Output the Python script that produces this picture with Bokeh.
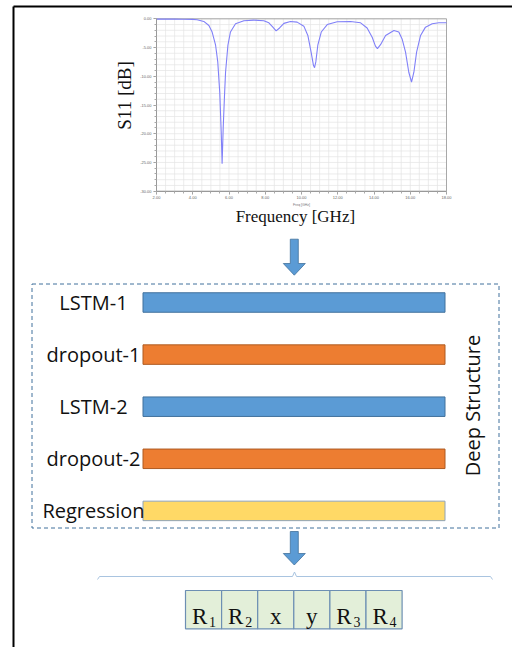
import numpy as np
from bokeh.plotting import figure
from bokeh.models import Range1d, LinearAxis, FixedTicker
from bokeh.core.properties import value
from bokeh.embed import file_html
from bokeh.resources import INLINE

# ---------------- data ----------------
freq_ghz = [2.0, 2.5, 3.0, 3.5, 4.0,
            4.24, 4.61, 4.89, 5.07, 5.26,
            5.38, 5.49, 5.57, 5.62, 5.68,
            5.75, 5.81, 5.94, 6.08, 6.36,
            6.82, 7.37, 7.92, 8.2, 8.42,
            8.6, 8.79, 9.03, 9.39, 9.76,
            10.13, 10.35, 10.53, 10.66, 10.72,
            10.79, 10.9, 11.09, 11.42, 11.97,
            12.7, 13.26, 13.62, 13.9, 14.08,
            14.19, 14.36, 14.64, 15.1, 15.37,
            15.55, 15.74, 15.92, 16.07, 16.2,
            16.35, 16.57, 16.84, 17.21, 17.58,
            18.0]
s11_db = [-0.05, -0.05, -0.06, -0.07, -0.1,
          -0.17, -0.46, -1.16, -2.3, -4.6,
          -7.5, -12.8, -19.7, -25.2, -19.0,
          -13.5, -9.3, -4.6, -2.3, -0.87,
          -0.35, -0.23, -0.35, -0.7, -1.45,
          -2.09, -1.6, -0.8, -0.46, -0.58,
          -1.28, -2.9, -5.8, -8.1, -8.5,
          -7.5, -4.6, -2.3, -1.0, -0.52,
          -0.46, -0.7, -1.6, -3.2, -4.76,
          -5.2, -4.5, -2.9, -2.03, -2.3,
          -3.5, -5.8, -9.3, -11.0, -9.3,
          -5.8, -2.9, -1.45, -0.87, -0.7,
          -0.7]

freq_ticks = [2, 4, 6, 8, 10, 12, 14, 16, 18]
freq_tick_labels = ["2.00", "4.00", "6.00", "8.00", "10.00", "12.00", "14.00", "16.00", "18.00"]
db_ticks = [0, -5, -10, -15, -20, -25, -30]
db_tick_labels = ["0.00", "-5.00", "-10.00", "-15.00", "-20.00", "-25.00", "-30.00"]

layers = ["LSTM-1", "dropout-1", "LSTM-2", "dropout-2", "Regression"]
layer_colors = ["#5b9bd5", "#ed7d31", "#5b9bd5", "#ed7d31", "#ffd966"]
layer_lines = ["#41719c", "#ae5a21", "#41719c", "#ae5a21", "#8fa3b8"]

out_main = ["R", "R", "x", "y", "R", "R"]
out_sub = ["1", "2", "", "", "3", "4"]

# ---------------- layout (page pixels) ----------------
W, H = 512, 647
PX0, PY0 = 0, 0
# chart frame in page pixels
CH_L, CH_R, CH_T, CH_B = 156.0, 446.0, 18.3, 190.7
F0, F1 = 2.0, 18.0
D0, D1 = 0.0, -30.0

p = figure(width=W, height=H, x_range=Range1d(PX0, PX0 + W), y_range=Range1d(PY0 + H, PY0),
           output_backend="svg", toolbar_location=None, min_border=0,
           x_axis_location=None, y_axis_location=None, outline_line_color=None,
           background_fill_color="white", border_fill_color="white")
p.grid.visible = False

# extra ranges so the S11 chart is drawn through its own scales
fpp = (F1 - F0) / (CH_R - CH_L)
dpp = (D0 - D1) / (CH_B - CH_T)
p.extra_x_ranges = {"freq": Range1d(F0 - (CH_L - PX0) * fpp, F1 + (PX0 + W - CH_R) * fpp)}
p.extra_y_ranges = {"db": Range1d(D1 - (PY0 + H - CH_B) * dpp, D0 + (CH_T - PY0) * dpp)}

# grid
gx = np.arange(F0, F1 + 0.001, 0.5)
gy = np.arange(D1, D0 + 0.001, 1.0)
p.multi_line(xs=[[g, g] for g in gx], ys=[[D1, D0]] * len(gx), x_range_name="freq",
             y_range_name="db", line_color="#e4e4e4", line_width=0.7)
p.multi_line(xs=[[F0, F1]] * len(gy), ys=[[g, g] for g in gy], x_range_name="freq",
             y_range_name="db", line_color="#e4e4e4", line_width=0.7)
p.quad(left=[F0], right=[F1], bottom=[D1], top=[D0], x_range_name="freq", y_range_name="db",
       fill_color=None, line_color="#a8a8a8", line_width=1)

p.line(freq_ghz, s11_db, x_range_name="freq", y_range_name="db",
       line_color="#8080f8", line_width=1.1)

xa = LinearAxis(x_range_name="freq", fixed_location=CH_B, bounds=(F0, F1),
                ticker=FixedTicker(ticks=freq_ticks, minor_ticks=list(np.arange(F0, F1 + 0.01, 0.5))),
                major_label_overrides={t: l for t, l in zip(freq_ticks, freq_tick_labels)},
                axis_label="Freq [GHz]", axis_label_text_font_size="3.5px",
                axis_label_text_font_style="normal", axis_label_standoff=0,
                axis_label_text_color="#777",
                major_label_text_font_size="4px", major_label_text_color="#666",
                major_label_standoff=2,
                axis_line_color="#999", major_tick_line_color="#999", minor_tick_line_color="#aaa",
                major_tick_out=3, major_tick_in=0, minor_tick_out=2, minor_tick_in=0)
p.add_layout(xa, "below")
ya = LinearAxis(y_range_name="db", fixed_location=CH_L, bounds=(D1, D0),
                ticker=FixedTicker(ticks=db_ticks, minor_ticks=list(np.arange(D1, D0 + 0.01, 1.0))),
                major_label_overrides={t: l for t, l in zip(db_ticks, db_tick_labels)},
                major_label_text_font_size="4px", major_label_text_color="#666",
                major_label_standoff=2,
                axis_line_color="#999", major_tick_line_color="#999", minor_tick_line_color="#aaa",
                major_tick_out=3, major_tick_in=0, minor_tick_out=2, minor_tick_in=0)
p.add_layout(ya, "left")

serif = value("Liberation Serif")
sans = value("Open Sans")

p.text(x=[124], y=[95], text=["S11 [dB]"], angle=np.pi / 2, text_font=serif,
       text_font_size="19px", text_align="center", text_baseline="middle", text_color="#111")
p.text(x=[297], y=[216], text=["Frequency  [GHz]"], text_font=serif,
       text_font_size="17px", text_align="center", text_baseline="middle", text_color="#111")

# black border (top & left)
p.line([13, 13], [6, PY0 + H], line_color="black", line_width=2)
p.line([13, PX0 + W], [6, 6], line_color="black", line_width=2)

# arrows
def arrow(cx, top, neck, tip, sw=4.0, hw=11.0):
    xs = [cx - sw, cx + sw, cx + sw, cx + hw, cx, cx - hw, cx - sw]
    ys = [top, top, neck, neck, tip, neck, neck]
    p.patch(xs, ys, fill_color="#5b9bd5", line_color="#41719c", line_width=0.8)

arrow(293.8, 238.7, 263.0, 274.7)
arrow(293.8, 531.0, 553.0, 564.5)

# dashed box
BOX_L, BOX_R, BOX_T, BOX_B = 31.5, 498.5, 283.5, 527.5
p.line([BOX_L, BOX_R, BOX_R, BOX_L, BOX_L], [BOX_T, BOX_T, BOX_B, BOX_B, BOX_T],
       line_color="#41719c", line_width=1, line_dash="4 3")

BAR_L, BAR_R, BAR_Y0, BAR_STEP, BAR_H = 142.5, 444.5, 302.0, 52.1, 19.5
ys = [BAR_Y0 + i * BAR_STEP for i in range(len(layers))]
p.rect(x=[(BAR_L + BAR_R) / 2] * len(layers), y=ys, width=BAR_R - BAR_L, height=BAR_H,
       fill_color=layer_colors, line_color=layer_lines, line_width=1)
p.text(x=[93] * len(layers), y=ys, text=layers, text_font=sans, text_font_size="20px",
       text_align="center", text_baseline="middle", text_color="#111")
p.text(x=[472], y=[405], text=["Deep Structure"], angle=np.pi / 2, text_font=sans,
       text_font_size="20px", text_align="center", text_baseline="middle", text_color="#111")

# bracket
p.line([97, 99, 292, 294, 296, 490, 492], [579, 576, 576, 571.5, 576, 576, 579],
       line_color="#a9c4e0", line_width=1)

# output cells
CELL_L, CELL_W, CELL_T, CELL_B = 185.0, 36.1, 590.0, 628.3
n = len(out_main)
cx = [CELL_L + CELL_W * (i + 0.5) for i in range(n)]
p.rect(x=cx, y=[(CELL_T + CELL_B) / 2] * n, width=CELL_W, height=CELL_B - CELL_T,
       fill_color="#e3efd9", line_color="#6d8fb3", line_width=1.2)
main_x = [c - (4 if s else 0) for c, s in zip(cx, out_sub)]
p.text(x=main_x, y=[615.8] * n, text=out_main, text_font=serif, text_font_size="23px",
       text_align="center", text_baseline="alphabetic", text_color="#111")
sub_x = [c + 5.5 for c in cx]
p.text(x=sub_x, y=[621.5] * n, text=out_sub, text_font=serif, text_font_size="14px",
       text_align="left", text_baseline="alphabetic", text_color="#111")

open("out.html", "w").write(file_html(p, INLINE))
